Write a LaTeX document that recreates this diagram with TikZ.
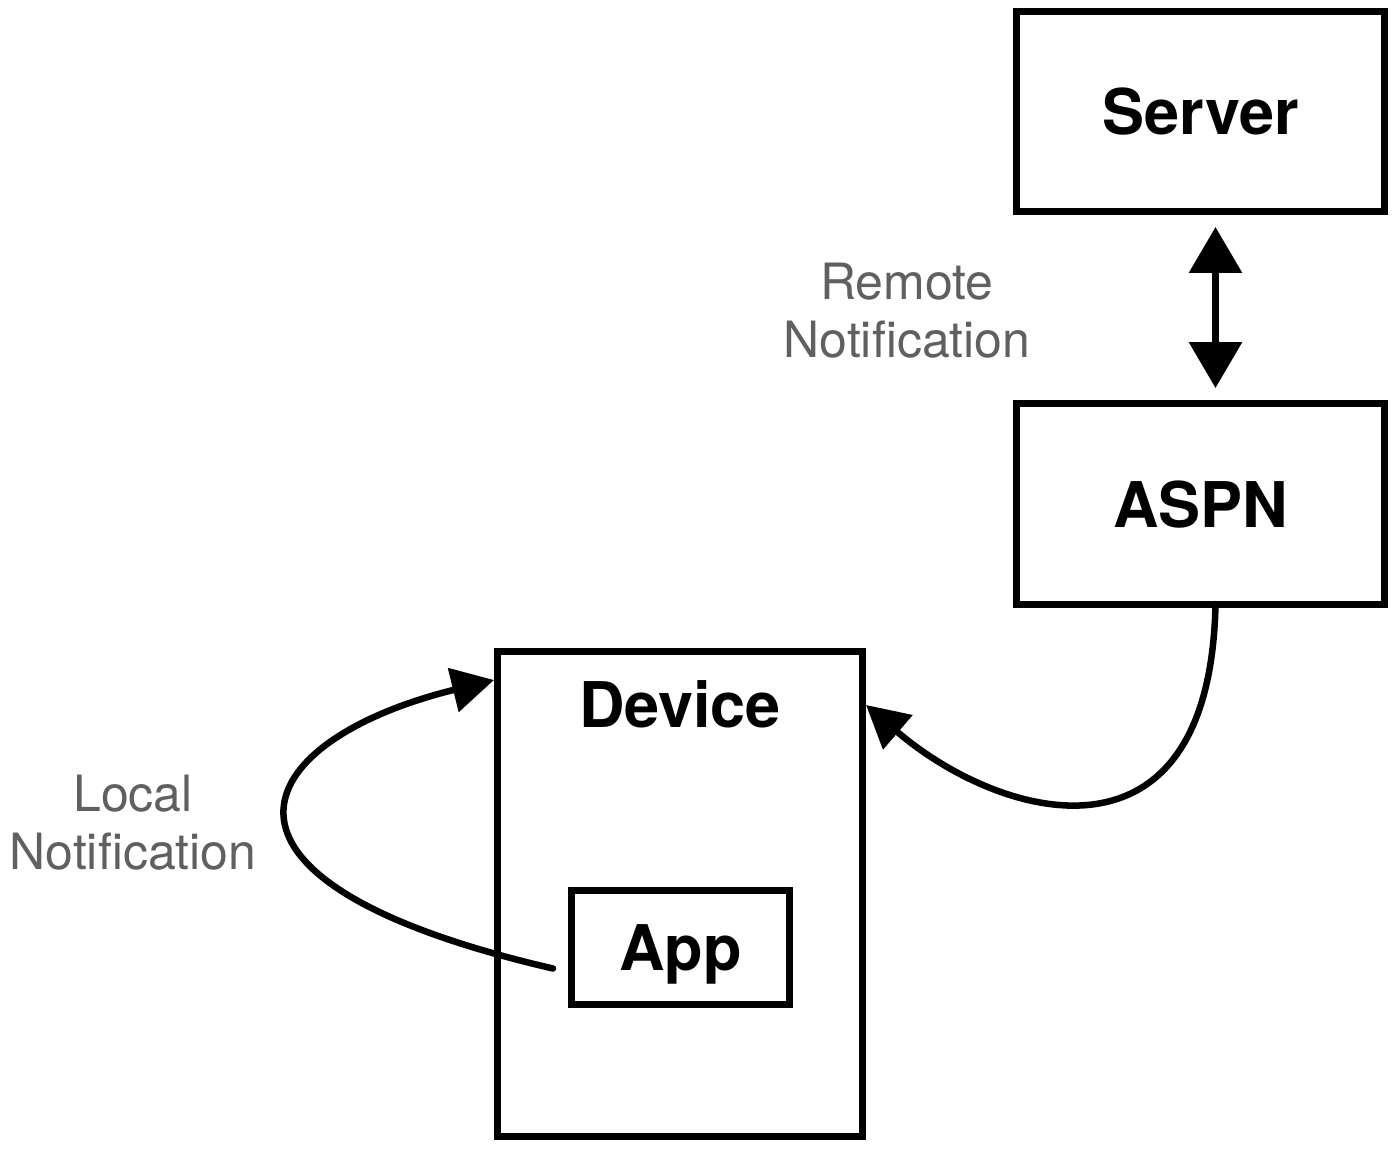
\documentclass[tikz,border=0pt]{standalone}
\usepackage{fontspec}
\setmainfont{TeX Gyre Heros}
\usetikzlibrary{arrows.meta}
\definecolor{labelgray}{HTML}{606060}
\begin{document}
\begin{tikzpicture}[x=1pt,y=-1pt,
  box/.style={draw=black,line width=7pt,inner sep=0pt,text depth=0pt,font=\fontsize{63}{69}\selectfont\bfseries},
  boxtext/.style={inner sep=0pt,text depth=0pt,font=\fontsize{63}{69}\selectfont\bfseries},
  note/.style={text=labelgray,align=center,inner sep=0pt,font=\fontsize{50}{58}\selectfont},
  conn/.style={draw=black,line width=6.5pt,line cap=round}
]
\useasboundingbox (0,0) rectangle (1392,1150);
% boxes
\node[box,minimum width=368pt,minimum height=200pt] (server) at (1200.5,111.5) {Server};
\node[box,minimum width=368pt,minimum height=201pt] (aspn) at (1200.5,504) {ASPN};
\node[box,minimum width=365pt,minimum height=485pt] (device) at (680,894) {};
\node[boxtext] (devlabel) at (680,704) {Device};
\node[box,minimum width=218pt,minimum height=114pt] (app) at (680.5,947.5) {App};
% labels
\node[note] (remote) at (907,311) {Remote\\Notification};
\node[note] (local) at (133,823) {Local\\Notification};
% connectors
\draw[conn,{Triangle[length=46pt,width=52pt]}-{Triangle[length=46pt,width=52pt]},shorten <=12pt,shorten >=12pt]
  ([xshift=15pt]server.south) -- ([xshift=15pt]aspn.north);
\draw[conn,-{Triangle[length=42pt,width=44pt]}]
  ([xshift=-15pt,yshift=-21pt]app.west) .. controls (170,880) and (250,740) .. ([yshift=-32pt]device.north west);
\draw[conn,-{Triangle[length=42pt,width=44pt]}]
  ([xshift=15pt,yshift=4pt]aspn.south) .. controls (1210,880) and (1000,820) .. ([yshift=-57pt]device.north east);
\end{tikzpicture}
\end{document}
